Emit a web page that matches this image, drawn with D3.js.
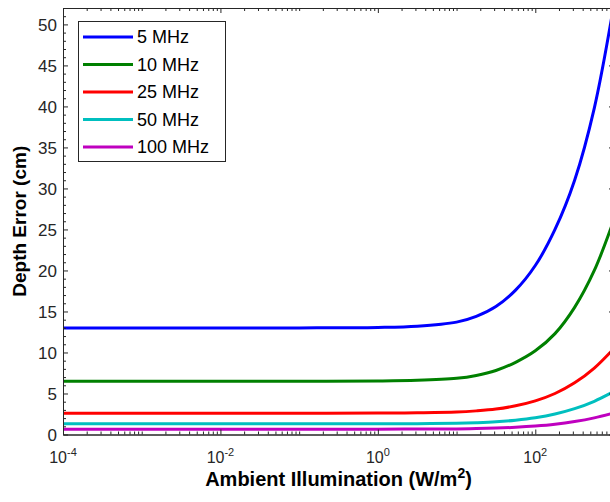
<!DOCTYPE html>
<html>
<head>
<meta charset="utf-8">
<script src="https://cdn.jsdelivr.net/npm/d3@7"></script>
<style>
  body { margin: 0; background: #fff; }
  svg { display: block; font-family: "Liberation Sans", Arial, Helvetica, sans-serif; }
</style>
</head>
<body>
<script>
const svgWidth = 610
const svgHeight = 502

const margin = { top: 8, left: 63, right: 614, bottom: 434.5 }

// illumination (W/m^2) sample points
const illumination = [1e-4, 1e-3, 1e-2, 1e-1, 1, 3.16, 10, 17.8, 31.6, 56.2, 100, 178, 316, 562, 1000]

// depth error (cm) per modulation frequency
const err5MHz   = [13, 13, 13, 13, 13.05, 13.2, 13.7, 14.4, 15.6, 17.6, 20.6, 25.0, 31.0, 39.8, 52.5]
const err10MHz  = [6.5, 6.5, 6.5, 6.5, 6.52, 6.6, 6.85, 7.2, 7.8, 8.8, 10.2, 12.3, 15.5, 20.0, 26.2]
const err25MHz  = [2.6, 2.6, 2.6, 2.6, 2.61, 2.65, 2.74, 2.88, 3.1, 3.5, 4.1, 5.0, 6.3, 8.1, 10.5]
const err50MHz  = [1.3, 1.3, 1.3, 1.3, 1.31, 1.32, 1.37, 1.44, 1.55, 1.75, 2.05, 2.5, 3.15, 4.05, 5.25]
const err100MHz = [0.65, 0.65, 0.65, 0.65, 0.65, 0.66, 0.68, 0.72, 0.78, 0.88, 1.03, 1.25, 1.58, 2.03, 2.62]

const seriesNames = ["5 MHz", "10 MHz", "25 MHz", "50 MHz", "100 MHz"]
const seriesColors = ["#0000ff", "#008000", "#ff0000", "#00bfbf", "#bf00bf"]
const seriesValues = [err5MHz, err10MHz, err25MHz, err50MHz, err100MHz]

const yTicks = [0, 5, 10, 15, 20, 25, 30, 35, 40, 45, 50]
const xTicks = [1e-4, 1e-2, 1, 1e2]
const xTickExp = ["-4", "-2", "0", "2"]

const axisColor = "#262626"

const svg = d3.select("body").append("svg")
  .attr("width", svgWidth)
  .attr("height", svgHeight)

const x = d3.scaleLog()
  .domain([1e-4, 1e3])
  .range([margin.left, margin.right])

const y = d3.scaleLinear()
  .domain([0, 52])
  .range([margin.bottom, margin.top])

svg.append("clipPath").attr("id", "plotClip")
  .append("rect")
  .attr("x", margin.left).attr("y", margin.top)
  .attr("width", margin.right - margin.left)
  .attr("height", margin.bottom - margin.top)

// curves
const line = d3.line()
  .x((d, i) => x(illumination[i]))
  .y(d => y(d))
  .curve(d3.curveCatmullRom.alpha(0.5))

const plotG = svg.append("g").attr("clip-path", "url(#plotClip)")
seriesValues.forEach((vals, i) => {
  plotG.append("path")
    .datum(vals)
    .attr("d", line)
    .attr("fill", "none")
    .attr("stroke", seriesColors[i])
    .attr("stroke-width", 3)
})

// minor tick values
const xMinor = []
for (let e = -4; e < 3; e++) {
  for (let m = 1; m <= 9; m++) {
    const v = m * Math.pow(10, e)
    if (!xTicks.includes(v)) xMinor.push(v)
  }
}
xMinor.push(1e3)
const yMinor = d3.range(0, 53, 1).filter(v => v % 5 !== 0)

const styleAxis = g => {
  g.select(".domain").attr("stroke", axisColor)
  g.selectAll(".tick line").attr("stroke", axisColor)
  g.selectAll(".tick text").remove()
}

// bottom / top
svg.append("g").attr("transform", `translate(0, ${margin.bottom})`)
  .call(d3.axisBottom(x).tickValues(xTicks).tickSizeInner(-5).tickSizeOuter(0)).call(styleAxis)
svg.append("g").attr("transform", `translate(0, ${margin.bottom})`)
  .call(d3.axisBottom(x).tickValues(xMinor).tickSizeInner(-3).tickSizeOuter(0)).call(styleAxis)
svg.append("g").attr("transform", `translate(0, ${margin.top})`)
  .call(d3.axisTop(x).tickValues(xTicks).tickSizeInner(-5).tickSizeOuter(0)).call(styleAxis)
svg.append("g").attr("transform", `translate(0, ${margin.top})`)
  .call(d3.axisTop(x).tickValues(xMinor).tickSizeInner(-3).tickSizeOuter(0)).call(styleAxis)

// left / right
svg.append("g").attr("transform", `translate(${margin.left}, 0)`)
  .call(d3.axisLeft(y).tickValues(yTicks).tickSizeInner(-5).tickSizeOuter(0)).call(styleAxis)
svg.append("g").attr("transform", `translate(${margin.left}, 0)`)
  .call(d3.axisLeft(y).tickValues(yMinor).tickSizeInner(-3).tickSizeOuter(0)).call(styleAxis)
svg.append("g").attr("transform", `translate(${margin.right}, 0)`)
  .call(d3.axisRight(y).tickValues(yTicks).tickSizeInner(-5).tickSizeOuter(0)).call(styleAxis)
svg.append("g").attr("transform", `translate(${margin.right}, 0)`)
  .call(d3.axisRight(y).tickValues(yMinor).tickSizeInner(-3).tickSizeOuter(0)).call(styleAxis)

// y tick labels
svg.append("g").selectAll("text")
  .data(yTicks)
  .enter()
  .append("text")
  .attr("x", margin.left - 6)
  .attr("y", d => y(d))
  .attr("dy", "0.36em")
  .attr("text-anchor", "end")
  .attr("font-size", 17)
  .attr("fill", axisColor)
  .text(d => d)

// x tick labels (10^n)
const xLab = svg.append("g").selectAll("text")
  .data(xTicks)
  .enter()
  .append("text")
  .attr("x", d => x(d))
  .attr("y", 463)
  .attr("text-anchor", "middle")
  .attr("font-size", 16)
  .attr("fill", axisColor)
xLab.append("tspan").text("10")
xLab.append("tspan")
  .attr("font-size", 11)
  .attr("dy", -7)
  .text((d, i) => xTickExp[i])

// axis titles
const xTitle = svg.append("text")
  .attr("x", (margin.left + margin.right) / 2)
  .attr("y", 486)
  .attr("text-anchor", "middle")
  .attr("font-size", 20)
  .attr("font-weight", "bold")
  .attr("fill", "#000")
xTitle.append("tspan").text("Ambient Illumination (W/m")
xTitle.append("tspan").attr("font-size", 14).attr("dy", -8).text("2")
xTitle.append("tspan").attr("dy", 8).text(")")

svg.append("text")
  .attr("transform", `translate(26, ${(margin.top + margin.bottom) / 2}) rotate(-90)`)
  .attr("text-anchor", "middle")
  .attr("font-size", 19)
  .attr("font-weight", "bold")
  .attr("fill", "#000")
  .text("Depth Error (cm)")

// legend
const legendG = svg.append("g")
legendG.append("rect")
  .attr("x", 78.5).attr("y", 21.5)
  .attr("width", 147).attr("height", 140)
  .attr("fill", "#fff")
  .attr("stroke", axisColor)
  .attr("stroke-width", 1)

const rowY = d3.scalePoint().domain(seriesNames).range([37, 147])

seriesNames.forEach((name, i) => {
  legendG.append("line")
    .attr("x1", 83).attr("x2", 133)
    .attr("y1", rowY(name)).attr("y2", rowY(name))
    .attr("stroke", seriesColors[i])
    .attr("stroke-width", 3)
  legendG.append("text")
    .attr("x", 137)
    .attr("y", rowY(name))
    .attr("dy", "0.36em")
    .attr("font-size", 18)
    .attr("fill", "#000")
    .text(name)
})
</script>
</body>
</html>
